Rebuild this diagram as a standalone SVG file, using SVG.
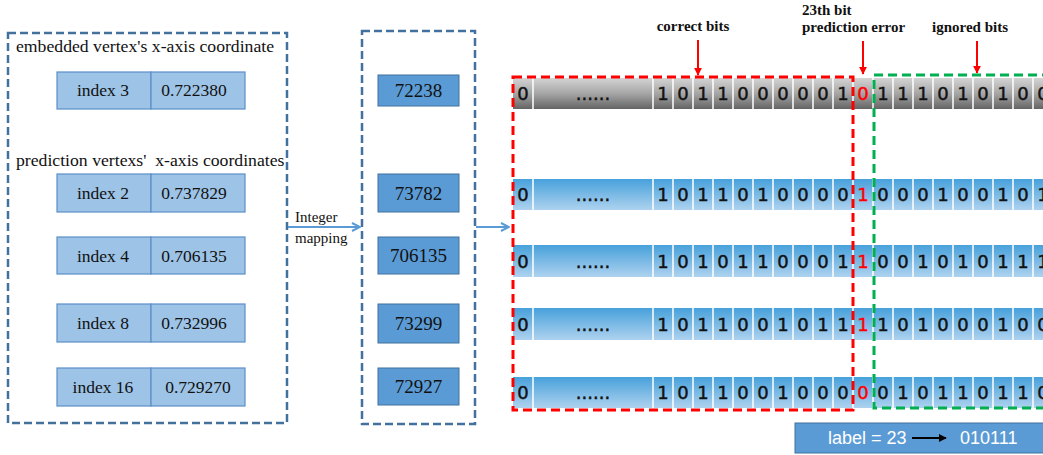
<svg xmlns="http://www.w3.org/2000/svg" width="1043" height="455" viewBox="0 0 1043 455">
<defs>
<linearGradient id="gGray" x1="0" y1="0" x2="0" y2="1">
<stop offset="0" stop-color="#d4d4d4"/><stop offset="0.5" stop-color="#a6a6a6"/><stop offset="1" stop-color="#646464"/>
</linearGradient>
<linearGradient id="gBlue" x1="0" y1="0" x2="0" y2="1">
<stop offset="0" stop-color="#47a1db"/><stop offset="1" stop-color="#aed2ef"/>
</linearGradient>
<marker id="mBlue" viewBox="0 0 10 10" refX="9" refY="5" markerWidth="5" markerHeight="5" orient="auto" markerUnits="strokeWidth">
<path d="M1,1 L9,5 L1,9" fill="none" stroke="#5b9bd5" stroke-width="2"/>
</marker>
<marker id="mRed" viewBox="0 0 10 10" refX="9" refY="5" markerWidth="4" markerHeight="4" orient="auto" markerUnits="strokeWidth">
<path d="M0,0 L10,5 L0,10 Z" fill="#ff0000"/>
</marker>
<marker id="mBlack" viewBox="0 0 10 10" refX="9" refY="5" markerWidth="4" markerHeight="4" orient="auto" markerUnits="strokeWidth">
<path d="M0,0 L10,5 L0,10 Z" fill="#000"/>
</marker>
</defs>
<style>
.grp{fill:none;stroke:#41719c;stroke-width:2.5;stroke-dasharray:8 4}
.idx{fill:#9dc3e6;stroke:#5b8fc9;stroke-width:1.2}
.num{fill:#5b9bd5;stroke:#41719c;stroke-width:1}
.serif{font-family:"Liberation Serif",serif;fill:#111}
.t17{font-size:17.5px}
.t18{font-size:17.7px}
.t19{font-size:19px}
.hdr{font-family:"Liberation Serif",serif;font-size:15px;font-weight:bold;fill:#111}
.bit{font-family:"DejaVu Sans",sans-serif;font-size:18px;fill:#111;stroke:#111;stroke-width:0.45;text-anchor:middle}
.red{fill:#ff0000;stroke:#ff0000}
.sep{stroke:#ffffff;stroke-width:1.5}
.conn{stroke:#5b9bd5;stroke-width:2;fill:none}
.rarr{stroke:#ff0000;stroke-width:2;fill:none}
</style>

<g id="left-panel">
<rect class="grp" x="8" y="33" width="279" height="390"/>
<text class="serif t18" x="16" y="52">embedded vertex's x-axis coordinate</text>
<text class="serif t18" x="16" y="166" xml:space="preserve">prediction vertexs'  x-axis coordinates</text>
</g>

<g id="node-index3">
<rect class="idx" x="57" y="72" width="94" height="37"/><rect class="idx" x="151" y="72" width="94" height="37"/>
<text class="serif t17" x="103" y="96" text-anchor="middle">index 3</text>
<text class="serif t17" x="194" y="96" text-anchor="middle">0.722380</text>
</g>
<g id="node-index2">
<rect class="idx" x="57" y="174" width="94" height="38"/><rect class="idx" x="151" y="174" width="94" height="38"/>
<text class="serif t17" x="103" y="199" text-anchor="middle">index 2</text>
<text class="serif t17" x="194" y="199" text-anchor="middle">0.737829</text>
</g>
<g id="node-index4">
<rect class="idx" x="57" y="237" width="94" height="37"/><rect class="idx" x="151" y="237" width="94" height="37"/>
<text class="serif t17" x="103" y="262" text-anchor="middle">index 4</text>
<text class="serif t17" x="194" y="262" text-anchor="middle">0.706135</text>
</g>
<g id="node-index8">
<rect class="idx" x="57" y="304" width="94" height="38"/><rect class="idx" x="151" y="304" width="94" height="38"/>
<text class="serif t17" x="103" y="329" text-anchor="middle">index 8</text>
<text class="serif t17" x="194" y="329" text-anchor="middle">0.732996</text>
</g>
<g id="node-index16">
<rect class="idx" x="57" y="368" width="94" height="38"/><rect class="idx" x="151" y="368" width="94" height="38"/>
<text class="serif t17" x="103" y="393" text-anchor="middle">index 16</text>
<text class="serif t17" x="198" y="393" text-anchor="middle">0.729270</text>
</g>

<g id="mid-panel">
<rect class="grp" x="362" y="31" width="113" height="393"/>
</g>
<g id="node-72238"><rect class="num" x="378" y="75" width="81" height="31"/><text class="serif t19" x="418.5" y="97" text-anchor="middle">72238</text></g>
<g id="node-73782"><rect class="num" x="378" y="174" width="81" height="38"/><text class="serif t19" x="418.5" y="200" text-anchor="middle">73782</text></g>
<g id="node-706135"><rect class="num" x="378" y="237" width="81" height="37"/><text class="serif t19" x="418.5" y="262" text-anchor="middle">706135</text></g>
<g id="node-73299"><rect class="num" x="378" y="304" width="81" height="39"/><text class="serif t19" x="418.5" y="330" text-anchor="middle">73299</text></g>
<g id="node-72927"><rect class="num" x="378" y="368" width="81" height="37"/><text class="serif t19" x="418.5" y="393" text-anchor="middle">72927</text></g>

<g id="connectors">
<line class="conn" x1="288" y1="227" x2="360" y2="227" marker-end="url(#mBlue)"/>
<line class="conn" x1="476" y1="227" x2="509" y2="227" marker-end="url(#mBlue)"/>
<line class="rarr" x1="698" y1="40" x2="698" y2="75" marker-end="url(#mRed)"/>
<line class="rarr" x1="863" y1="41" x2="863" y2="74" marker-end="url(#mRed)"/>
<line class="rarr" x1="977" y1="41" x2="977" y2="73" marker-end="url(#mRed)"/>
<text class="serif" font-size="15" x="295" y="222">Integer</text>
<text class="serif" font-size="15" x="295" y="243">mapping</text>
</g>

<g id="headers">
<text class="hdr" x="693" y="31" text-anchor="middle">correct bits</text>
<text class="hdr" x="802" y="15">23th bit</text>
<text class="hdr" x="802" y="32">prediction error</text>
<text class="hdr" x="970" y="32" text-anchor="middle">ignored bits</text>
</g>

<g id="row1">
<rect x="513" y="78" width="540" height="31" fill="url(#gGray)"/>
<path class="sep" d="M533,78V109M653,78V109M673,78V109M693,78V109M713,78V109M733,78V109M753,78V109M773,78V109M793,78V109M813,78V109M833,78V109M853,78V109M873,78V109M893,78V109M913,78V109M933,78V109M953,78V109M973,78V109M993,78V109M1013,78V109M1033,78V109"/>
<text class="bit" y="100"><tspan x="523">0</tspan><tspan x="593">......</tspan><tspan x="663">1</tspan><tspan x="683">0</tspan><tspan x="703">1</tspan><tspan x="723">1</tspan><tspan x="743">0</tspan><tspan x="763">0</tspan><tspan x="783">0</tspan><tspan x="803">0</tspan><tspan x="823">0</tspan><tspan x="843">1</tspan><tspan x="863" class="red">0</tspan><tspan x="883">1</tspan><tspan x="903">1</tspan><tspan x="923">1</tspan><tspan x="943">0</tspan><tspan x="963">1</tspan><tspan x="983">0</tspan><tspan x="1003">1</tspan><tspan x="1023">0</tspan><tspan x="1043">0</tspan></text>
</g>

<g id="row2">
<rect x="513" y="179" width="540" height="31" fill="url(#gBlue)"/>
<path class="sep" d="M533,179V210M653,179V210M673,179V210M693,179V210M713,179V210M733,179V210M753,179V210M773,179V210M793,179V210M813,179V210M833,179V210M853,179V210M873,179V210M893,179V210M913,179V210M933,179V210M953,179V210M973,179V210M993,179V210M1013,179V210M1033,179V210"/>
<text class="bit" y="201"><tspan x="523">0</tspan><tspan x="593">......</tspan><tspan x="663">1</tspan><tspan x="683">0</tspan><tspan x="703">1</tspan><tspan x="723">1</tspan><tspan x="743">0</tspan><tspan x="763">1</tspan><tspan x="783">0</tspan><tspan x="803">0</tspan><tspan x="823">0</tspan><tspan x="843">0</tspan><tspan x="863" class="red">1</tspan><tspan x="883">0</tspan><tspan x="903">0</tspan><tspan x="923">0</tspan><tspan x="943">1</tspan><tspan x="963">0</tspan><tspan x="983">0</tspan><tspan x="1003">1</tspan><tspan x="1023">0</tspan><tspan x="1043">1</tspan></text>
</g>

<g id="row3">
<rect x="513" y="245" width="540" height="32" fill="url(#gBlue)"/>
<path class="sep" d="M533,245V277M653,245V277M673,245V277M693,245V277M713,245V277M733,245V277M753,245V277M773,245V277M793,245V277M813,245V277M833,245V277M853,245V277M873,245V277M893,245V277M913,245V277M933,245V277M953,245V277M973,245V277M993,245V277M1013,245V277M1033,245V277"/>
<text class="bit" y="267.5"><tspan x="523">0</tspan><tspan x="593">......</tspan><tspan x="663">1</tspan><tspan x="683">0</tspan><tspan x="703">1</tspan><tspan x="723">0</tspan><tspan x="743">1</tspan><tspan x="763">1</tspan><tspan x="783">0</tspan><tspan x="803">0</tspan><tspan x="823">0</tspan><tspan x="843">1</tspan><tspan x="863" class="red">1</tspan><tspan x="883">0</tspan><tspan x="903">0</tspan><tspan x="923">1</tspan><tspan x="943">0</tspan><tspan x="963">1</tspan><tspan x="983">0</tspan><tspan x="1003">1</tspan><tspan x="1023">1</tspan><tspan x="1043">1</tspan></text>
</g>

<g id="row4">
<rect x="513" y="308" width="540" height="32" fill="url(#gBlue)"/>
<path class="sep" d="M533,308V340M653,308V340M673,308V340M693,308V340M713,308V340M733,308V340M753,308V340M773,308V340M793,308V340M813,308V340M833,308V340M853,308V340M873,308V340M893,308V340M913,308V340M933,308V340M953,308V340M973,308V340M993,308V340M1013,308V340M1033,308V340"/>
<text class="bit" y="330.5"><tspan x="523">0</tspan><tspan x="593">......</tspan><tspan x="663">1</tspan><tspan x="683">0</tspan><tspan x="703">1</tspan><tspan x="723">1</tspan><tspan x="743">0</tspan><tspan x="763">0</tspan><tspan x="783">1</tspan><tspan x="803">0</tspan><tspan x="823">1</tspan><tspan x="843">1</tspan><tspan x="863" class="red">1</tspan><tspan x="883">1</tspan><tspan x="903">0</tspan><tspan x="923">1</tspan><tspan x="943">0</tspan><tspan x="963">0</tspan><tspan x="983">0</tspan><tspan x="1003">1</tspan><tspan x="1023">0</tspan><tspan x="1043">0</tspan></text>
</g>

<g id="row5">
<rect x="513" y="377" width="540" height="31" fill="url(#gBlue)"/>
<path class="sep" d="M533,377V408M653,377V408M673,377V408M693,377V408M713,377V408M733,377V408M753,377V408M773,377V408M793,377V408M813,377V408M833,377V408M853,377V408M873,377V408M893,377V408M913,377V408M933,377V408M953,377V408M973,377V408M993,377V408M1013,377V408M1033,377V408"/>
<text class="bit" y="399"><tspan x="523">0</tspan><tspan x="593">......</tspan><tspan x="663">1</tspan><tspan x="683">0</tspan><tspan x="703">1</tspan><tspan x="723">1</tspan><tspan x="743">0</tspan><tspan x="763">0</tspan><tspan x="783">1</tspan><tspan x="803">0</tspan><tspan x="823">0</tspan><tspan x="843">0</tspan><tspan x="863" class="red">0</tspan><tspan x="883">0</tspan><tspan x="903">1</tspan><tspan x="923">0</tspan><tspan x="943">1</tspan><tspan x="963">1</tspan><tspan x="983">0</tspan><tspan x="1003">1</tspan><tspan x="1023">1</tspan><tspan x="1043">0</tspan></text>
</g>

<g id="regions">
<rect x="513" y="77" width="340" height="333" fill="none" stroke="#ff0000" stroke-width="3" stroke-dasharray="9 5"/>
<rect x="874" y="75" width="185" height="333" fill="none" stroke="#00b050" stroke-width="3" stroke-dasharray="9 5"/>
</g>

<g id="node-label">
<rect x="795" y="423" width="260" height="30" fill="#5b9bd5" stroke="#41719c" stroke-width="1"/>
<text x="828" y="444" font-family="Liberation Sans, sans-serif" font-size="18" fill="#ffffff">label = 23</text>
<line x1="912" y1="438" x2="946" y2="438" stroke="#000" stroke-width="2" marker-end="url(#mBlack)"/>
<text x="960" y="444" font-family="Liberation Sans, sans-serif" font-size="18" fill="#ffffff">010111</text>
</g>
</svg>
